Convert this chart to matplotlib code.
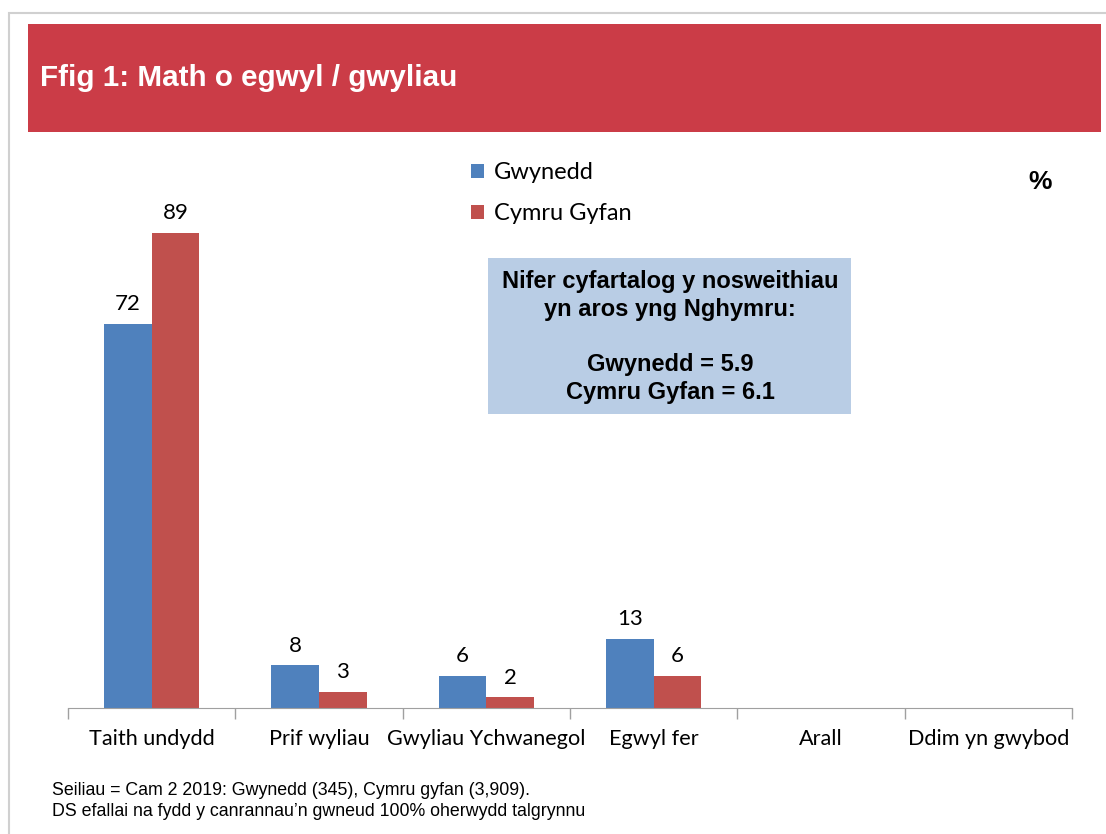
import matplotlib
matplotlib.use("Agg")
import matplotlib.pyplot as plt
import numpy as np
from matplotlib.patches import Rectangle

# chart data
categories = ["Taith undydd", "Prif wyliau", "Gwyliau Ychwanegol", "Egwyl fer", "Arall", "Ddim yn gwybod"]
gwynedd = [72, 8, 6, 13, np.nan, np.nan]
cymru = [89, 3, 2, 6, np.nan, np.nan]
series_names = ["Gwynedd", "Cymru Gyfan"]

title = "Ffig 1: Math o egwyl / gwyliau"
box_text = "Nifer cyfartalog y nosweithiau\nyn aros yng Nghymru:\n\nGwynedd = 5.9\nCymru Gyfan = 6.1"
footer = ("Seiliau = Cam 2 2019: Gwynedd (345), Cymru gyfan (3,909).\n"
          "DS efallai na fydd y canrannau\u2019n gwneud 100% oherwydd talgrynnu")

W, H = 1106, 834
blue = "#4F81BD"
red = "#C0504D"
arial = "Liberation Sans"
calibri = ["Lato", "DejaVu Sans"]

fig = plt.figure(figsize=(W / 100, H / 100), dpi=100)

def fx(x):
    return x / W

def fy(y):
    return 1 - y / H

# outer frame and red title bar
fig.add_artist(Rectangle((fx(9), fy(1200)), fx(1200), fy(13) - fy(1200), transform=fig.transFigure,
                         facecolor="none", edgecolor="#D0D0D0", lw=1.5))
fig.add_artist(Rectangle((fx(28), fy(132)), fx(1101 - 28), fy(24) - fy(132), transform=fig.transFigure,
                         facecolor="#CB3C47", edgecolor="none"))
fig.text(fx(40), fy(78), title, color="white", fontsize=21.3, fontweight="bold",
         family=arial, va="center", ha="left")

# main axes
ax = fig.add_axes([fx(68), fy(708), fx(1072 - 68), fy(174) - fy(708)])
x = np.arange(len(categories))
w = 0.284
b1 = ax.bar(x - w / 2, gwynedd, w, color=blue, label=series_names[0])
b2 = ax.bar(x + w / 2, cymru, w, color=red, label=series_names[1])
for bars, vals in [(b1, gwynedd), (b2, cymru)]:
    for rect, v in zip(bars, vals):
        if np.isnan(v):
            continue
        ax.annotate(f"{v:g}", (rect.get_x() + rect.get_width() / 2, v), xytext=(0, 7),
                    textcoords="offset points", ha="center", va="bottom",
                    fontsize=16, family=calibri, color="black")

ax.set_xlim(-0.5, len(categories) - 0.5)
ax.set_ylim(0, 100)
ax.set_xticks(np.arange(-0.5, len(categories)), minor=False)
ax.set_xticklabels([])
ax.set_xticks(x, minor=True)
ax.set_xticklabels(categories, minor=True, fontsize=15.6, family=calibri)
ax.tick_params(axis="x", which="major", length=8, color="#A0A0A0", width=1)
ax.tick_params(axis="x", which="minor", length=0, pad=15)
ax.set_yticks([])
for s in ["top", "right", "left"]:
    ax.spines[s].set_visible(False)
ax.spines["bottom"].set_color("#A0A0A0")

# legend
leg = fig.legend(handles=[b1, b2], labels=series_names, loc="upper left",
                 bbox_to_anchor=(fx(450), fy(141)), frameon=False,
                 prop={"family": calibri, "size": 17}, handlelength=0.55, handleheight=0.55,
                 handletextpad=0.4, labelspacing=0.85)

# percent sign
fig.text(fx(1040), fy(182), "%", fontsize=19, fontweight="bold", family=arial,
         ha="center", va="center")

# info box
fig.add_artist(Rectangle((fx(488), fy(414)), fx(851 - 488), fy(258) - fy(414), transform=fig.transFigure,
                         facecolor="#B9CDE5", edgecolor="none"))
fig.text(fx(670), fy(337), box_text, fontsize=17, fontweight="bold", family=arial,
         ha="center", va="center", linespacing=1.27)

# footer
fig.text(fx(52), fy(801), footer, fontsize=12.8, family=arial, ha="left", va="center",
         linespacing=1.3)

fig.savefig("out.png", dpi=100)
